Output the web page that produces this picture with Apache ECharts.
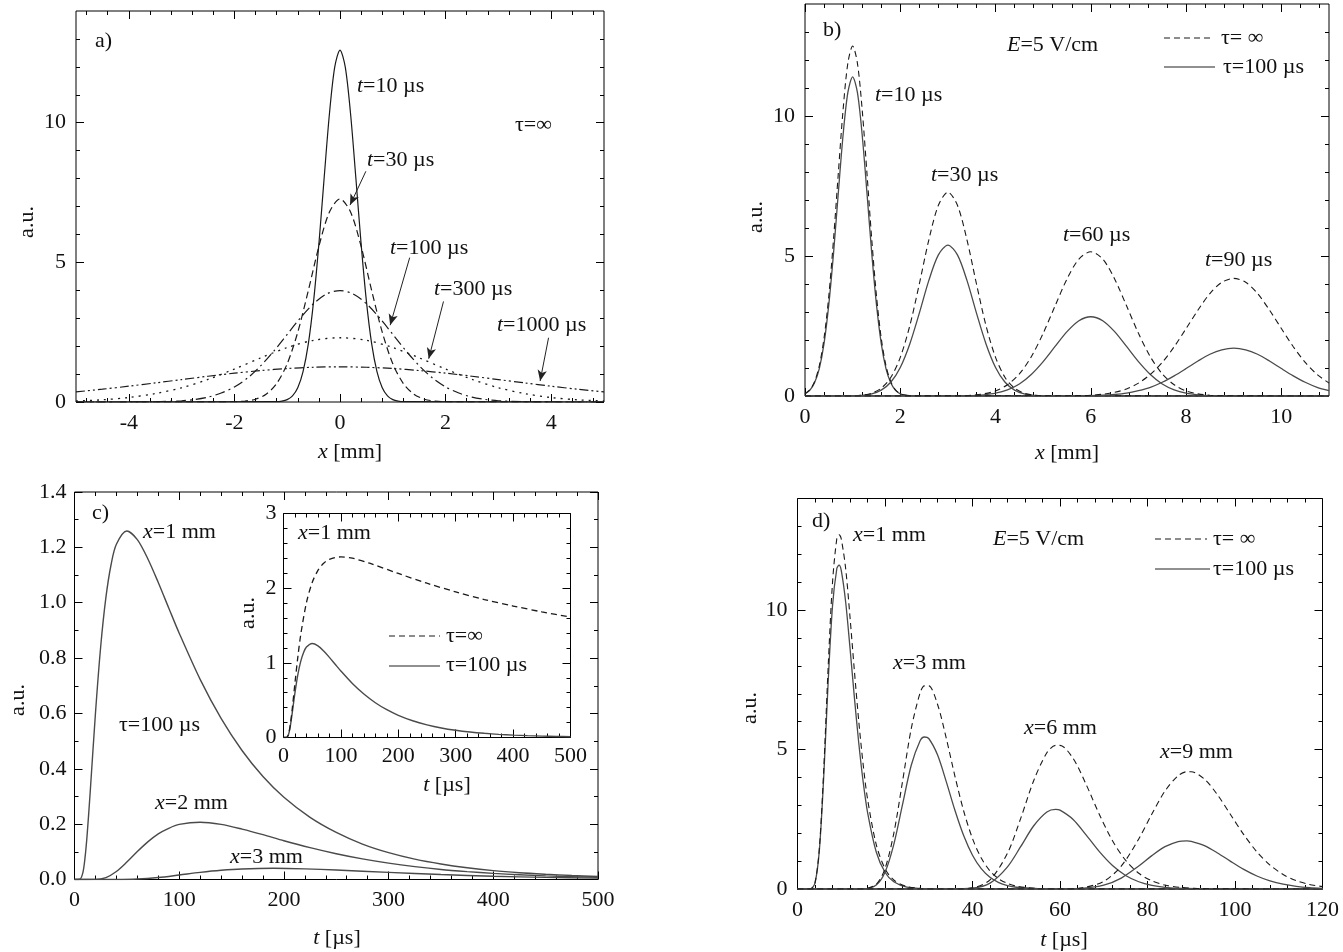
<!DOCTYPE html>
<html>
<head>
<meta charset="utf-8">
<script src="https://cdn.jsdelivr.net/npm/echarts@6/dist/echarts.min.js"></script>
<style>
html, body { margin: 0; padding: 0; background: #fff; }
#chart { width: 1343px; height: 952px; }
</style>
</head>
<body>
<div id="chart"></div>
<script>
// ---------- tick values ----------
const aXTicks = [-4, -2, 0, 2, 4];
const bXTicks = [0, 2, 4, 6, 8, 10];
const tauYTicks = [0, 5, 10];
const cXTicks = [0, 100, 200, 300, 400, 500];
const cYTicks = [0, 0.2, 0.4, 0.6, 0.8, 1.0, 1.2, 1.4];
const insetYTicks = [0, 1, 2, 3];
const dXTicks = [0, 20, 40, 60, 80, 100, 120];

// ---------- a) profiles n(x) at fixed t, tau = infinity ----------
const a_t10 = [[-5,0],[-1.2,0.01],[-1.1,0.03],[-1,0.085],[-0.9,0.22],[-0.8,0.51],[-0.7,1.09],[-0.6,2.08],[-0.5,3.61],[-0.4,5.66],[-0.3,8.03],[-0.2,10.32],[-0.1,11.99],[0,12.6],[0.1,11.99],[0.2,10.32],[0.3,8.03],[0.4,5.66],[0.5,3.61],[0.6,2.08],[0.7,1.09],[0.8,0.51],[0.9,0.22],[1,0.085],[1.1,0.03],[1.2,0.01],[5,0]];
const a_t30 = [[-5,0],[-2,0.009],[-1.8,0.033],[-1.6,0.10],[-1.4,0.28],[-1.2,0.66],[-1,1.37],[-0.8,2.50],[-0.6,3.99],[-0.4,5.57],[-0.2,6.80],[0,7.27],[0.2,6.80],[0.4,5.57],[0.6,3.99],[0.8,2.50],[1,1.37],[1.2,0.66],[1.4,0.28],[1.6,0.10],[1.8,0.033],[2,0.009],[5,0]];
const a_t100 = [[-5,0],[-4,0.001],[-3.5,0.009],[-3,0.044],[-2.75,0.091],[-2.5,0.175],[-2.25,0.32],[-2,0.54],[-1.75,0.86],[-1.5,1.30],[-1.25,1.83],[-1,2.42],[-0.75,3.01],[-0.5,3.52],[-0.25,3.87],[0,3.99],[0.25,3.87],[0.5,3.52],[0.75,3.01],[1,2.42],[1.25,1.83],[1.5,1.30],[1.75,0.86],[2,0.54],[2.25,0.32],[2.5,0.175],[2.75,0.091],[3,0.044],[3.5,0.009],[4,0.001],[5,0]];
const a_t300 = [[-5,0.036],[-4.5,0.079],[-4,0.16],[-3.5,0.30],[-3,0.51],[-2.5,0.81],[-2,1.18],[-1.5,1.58],[-1,1.95],[-0.5,2.21],[0,2.30],[0.5,2.21],[1,1.95],[1.5,1.58],[2,1.18],[2.5,0.81],[3,0.51],[3.5,0.30],[4,0.16],[4.5,0.079],[5,0.036]];
const a_t1000 = [[-5,0.361],[-4.5,0.458],[-4,0.566],[-3.5,0.683],[-3,0.803],[-2.5,0.922],[-2,1.032],[-1.5,1.126],[-1,1.199],[-0.5,1.244],[0,1.26],[0.5,1.244],[1,1.199],[1.5,1.126],[2,1.032],[2.5,0.922],[3,0.803],[3.5,0.683],[4,0.566],[4.5,0.458],[5,0.361]];

// ---------- b) profiles with drift, E = 5 V/cm ----------
const b_t10_inf = [[0,0.084],[0.1,0.22],[0.2,0.51],[0.3,1.08],[0.4,2.07],[0.5,3.58],[0.6,5.62],[0.7,7.97],[0.8,10.23],[0.9,11.89],[1,12.5],[1.1,11.89],[1.2,10.23],[1.3,7.97],[1.4,5.62],[1.5,3.58],[1.6,2.07],[1.7,1.08],[1.8,0.51],[1.9,0.22],[2,0.084],[2.1,0.03],[2.2,0.01],[11,0]];
const b_t10_100 = [[0,0.077],[0.1,0.20],[0.2,0.47],[0.3,0.98],[0.4,1.88],[0.5,3.27],[0.6,5.12],[0.7,7.27],[0.8,9.33],[0.9,10.84],[1,11.4],[1.1,10.84],[1.2,9.33],[1.3,7.27],[1.4,5.12],[1.5,3.27],[1.6,1.88],[1.7,0.98],[1.8,0.47],[1.9,0.20],[2,0.077],[2.1,0.027],[2.2,0.009],[11,0]];
const b_t30_inf = [[0,0],[1,0.009],[1.2,0.033],[1.4,0.10],[1.6,0.28],[1.8,0.66],[2,1.38],[2.2,2.51],[2.4,4.00],[2.6,5.58],[2.8,6.81],[3,7.28],[3.2,6.81],[3.4,5.58],[3.6,4.00],[3.8,2.51],[4,1.38],[4.2,0.66],[4.4,0.28],[4.6,0.10],[4.8,0.033],[5,0.009],[11,0]];
const b_t30_100 = [[0,0],[1,0.007],[1.2,0.024],[1.4,0.076],[1.6,0.21],[1.8,0.49],[2,1.02],[2.2,1.86],[2.4,2.96],[2.6,4.13],[2.8,5.04],[3,5.39],[3.2,5.04],[3.4,4.13],[3.6,2.96],[3.8,1.86],[4,1.02],[4.2,0.49],[4.4,0.21],[4.6,0.076],[4.8,0.024],[5,0.007],[11,0]];
const b_t60_inf = [[0,0],[3.25,0.009],[3.5,0.028],[3.75,0.076],[4,0.18],[4.25,0.40],[4.5,0.79],[4.75,1.40],[5,2.24],[5.25,3.22],[5.5,4.18],[5.75,4.89],[6,5.15],[6.25,4.89],[6.5,4.18],[6.75,3.22],[7,2.24],[7.25,1.40],[7.5,0.79],[7.75,0.40],[8,0.18],[8.25,0.076],[8.5,0.028],[8.75,0.009],[11,0]];
const b_t60_100 = [[0,0],[3.25,0.005],[3.5,0.015],[3.75,0.042],[4,0.10],[4.25,0.22],[4.5,0.43],[4.75,0.77],[5,1.23],[5.25,1.77],[5.5,2.30],[5.75,2.69],[6,2.83],[6.25,2.69],[6.5,2.30],[6.75,1.77],[7,1.23],[7.25,0.77],[7.5,0.43],[7.75,0.22],[8,0.10],[8.25,0.042],[8.5,0.015],[8.75,0.005],[11,0]];
const b_t90_inf = [[0,0],[5.75,0.012],[6,0.028],[6.25,0.063],[6.5,0.13],[6.75,0.25],[7,0.46],[7.25,0.77],[7.5,1.20],[7.75,1.76],[8,2.41],[8.25,3.07],[8.5,3.66],[8.75,4.06],[9,4.20],[9.25,4.06],[9.5,3.66],[9.75,3.07],[10,2.41],[10.25,1.76],[10.5,1.20],[10.75,0.77],[11,0.46]];
const b_t90_100 = [[0,0],[5.75,0.005],[6,0.012],[6.25,0.026],[6.5,0.053],[6.75,0.10],[7,0.19],[7.25,0.31],[7.5,0.49],[7.75,0.72],[8,0.98],[8.25,1.25],[8.5,1.49],[8.75,1.65],[9,1.71],[9.25,1.65],[9.5,1.49],[9.75,1.25],[10,0.98],[10.25,0.72],[10.5,0.49],[10.75,0.31],[11,0.19]];

// ---------- c) signal n(t) at fixed x, tau = 100 us ----------
const c_x1 = [[0,0],[5,0.0008],[8,0.025],[10,0.077],[12,0.158],[15,0.316],[20,0.600],[25,0.841],[30,1.019],[35,1.139],[40,1.211],[50,1.259],[60,1.228],[70,1.159],[80,1.073],[90,0.981],[100,0.890],[120,0.723],[140,0.582],[160,0.466],[180,0.372],[200,0.297],[225,0.2245],[250,0.170],[275,0.128],[300,0.097],[325,0.0736],[350,0.056],[375,0.0424],[400,0.032],[425,0.0245],[450,0.019],[475,0.0143],[500,0.011]];
const c_x2 = [[0,0],[20,0.0003],[30,0.007],[40,0.029],[50,0.063],[60,0.101],[70,0.136],[80,0.165],[90,0.185],[100,0.199],[120,0.207],[140,0.199],[160,0.182],[180,0.162],[200,0.140],[225,0.115],[250,0.093],[275,0.0743],[300,0.059],[325,0.0464],[350,0.036],[375,0.0284],[400,0.022],[425,0.0172],[450,0.013],[475,0.0104],[500,0.008]];
const c_x3 = [[0,0],[40,0.0001],[60,0.0016],[80,0.0072],[100,0.0163],[120,0.0258],[140,0.0334],[160,0.0382],[190,0.0405],[220,0.0385],[250,0.0342],[300,0.0256],[350,0.0178],[400,0.0119],[450,0.0077],[500,0.0049]];
// inset: x = 1 mm without recombination
const inset_inf = [[0,0],[5,0.0008],[8,0.027],[10,0.085],[12,0.179],[15,0.367],[20,0.732],[25,1.080],[30,1.376],[40,1.807],[50,2.076],[60,2.238],[70,2.334],[80,2.387],[100,2.419],[120,2.401],[150,2.334],[200,2.197],[250,2.066],[300,1.950],[350,1.848],[400,1.761],[450,1.683],[500,1.614]];

// ---------- d) signal n(t) at fixed x with drift ----------
const d_x1_inf = [[0,0],[2,0],[3,0.0067],[4,0.222],[5,1.465],[6,4.294],[7,7.929],[8,10.98],[9,12.58],[9.5,12.7],[10,12.55],[11,11.50],[12,9.749],[13,7.826],[14,6.021],[15,4.477],[16,3.239],[18,1.589],[20,0.732],[22,0.322],[25,0.089],[30,0.009],[35,0.0005],[120,0]];
const d_x1_100 = [[0,0],[2,0],[3,0.0064],[4,0.213],[5,1.393],[6,4.044],[7,7.393],[8,10.14],[9,11.50],[9.5,11.61],[10,11.42],[11,10.30],[12,8.646],[13,6.872],[14,5.234],[15,3.853],[16,2.760],[18,1.327],[20,0.600],[22,0.259],[25,0.069],[30,0.007],[35,0.0004],[120,0]];
const d_x3_inf = [[0,0],[12,0],[15,0.0057],[18,0.172],[20,0.732],[22,1.986],[24,3.847],[26,5.752],[28,7.020],[29,7.281],[30,7.284],[32,6.625],[34,5.407],[36,4.033],[38,2.788],[40,1.807],[42,1.109],[44,0.648],[46,0.364],[48,0.197],[50,0.103],[55,0.018],[60,0.003],[120,0]];
const d_x3_100 = [[0,0],[12,0],[15,0.0049],[18,0.144],[20,0.600],[22,1.594],[24,3.026],[26,4.435],[28,5.306],[29,5.449],[30,5.396],[32,4.810],[34,3.849],[36,2.814],[38,1.907],[40,1.211],[42,0.729],[44,0.418],[46,0.230],[48,0.122],[50,0.063],[55,0.011],[60,0.002],[120,0]];
const d_x6_inf = [[0,0],[35,0],[40,0.0425],[44,0.328],[48,1.285],[51,2.525],[54,3.890],[57,4.883],[59,5.150],[60,5.150],[63,4.680],[66,3.739],[69,2.670],[72,1.730],[75,1.028],[78,0.566],[81,0.291],[84,0.141],[88,0.049],[95,0.0065],[120,0]];
const d_x6_100 = [[0,0],[35,0],[40,0.0285],[44,0.211],[48,0.795],[51,1.516],[54,2.267],[57,2.761],[59,2.855],[60,2.826],[63,2.492],[66,1.933],[69,1.339],[72,0.842],[75,0.486],[78,0.260],[81,0.130],[84,0.061],[88,0.021],[95,0.0025],[120,0]];
const d_x9_inf = [[0,0],[60,0],[65,0.0404],[70,0.274],[74,0.822],[78,1.795],[81,2.689],[84,3.513],[87,4.062],[89,4.205],[90,4.205],[93,3.942],[96,3.376],[99,2.663],[102,1.950],[105,1.333],[108,0.857],[111,0.520],[114,0.299],[117,0.164],[120,0.086]];
const d_x9_100 = [[0,0],[60,0],[65,0.0211],[70,0.136],[74,0.392],[78,0.823],[81,1.196],[84,1.517],[87,1.702],[89,1.727],[90,1.710],[93,1.555],[96,1.293],[99,0.990],[102,0.703],[105,0.467],[108,0.291],[111,0.171],[114,0.096],[117,0.051],[120,0.026]];

// ---------- styling helpers ----------
const FONT = 'Liberation Serif';
const FS = 22;
const INK = '#111';

function minorTicks(from, to, step, majors) {
  const out = [];
  const n = Math.round((to - from) / step);
  for (let i = 0; i <= n; i++) {
    const v = +(from + i * step).toFixed(6);
    if (!majors.some(m => Math.abs(m - v) < 1e-9)) out.push(v);
  }
  return out;
}

// four axes per dimension: labelled main side, its minor ticks, and mirrored ticks on the opposite side
function makeAxes(dim, gridIndex, min, max, major, minor, fmt, margin) {
  const main = dim === 'x' ? 'bottom' : 'left';
  const opp = dim === 'x' ? 'top' : 'right';
  const base = { type: 'value', gridIndex, min, max, axisLine: { show: false, onZero: false }, splitLine: { show: false } };
  const tick = (vals, len) => ({ show: true, inside: true, length: len, customValues: vals, lineStyle: { color: '#000', width: 1 } });
  return [
    Object.assign({}, base, { position: main, axisTick: tick(major, 8),
      axisLabel: { show: true, customValues: major, formatter: fmt, fontFamily: FONT, fontSize: FS, color: INK, margin } }),
    Object.assign({}, base, { position: main, axisTick: tick(minor, 4), axisLabel: { show: false } }),
    Object.assign({}, base, { position: opp, axisTick: tick(major, 8), axisLabel: { show: false } }),
    Object.assign({}, base, { position: opp, axisTick: tick(minor, 4), axisLabel: { show: false } })
  ];
}

const intFmt = v => String(v);
const oneDec = v => v.toFixed(1);

const grids = [
  { left: 76,    top: 11,    width: 528,   height: 391 },   // a
  { left: 805,   top: 4,     width: 524,   height: 392 },   // b
  { left: 74.5,  top: 492,   width: 523.5, height: 387.5 }, // c
  { left: 797.5, top: 498.5, width: 525,   height: 390.5 }, // d
  { left: 283.5, top: 513.5, width: 287,   height: 224 }    // c inset
].map(g => Object.assign({ show: true, borderColor: '#000', borderWidth: 1, backgroundColor: 'transparent', containLabel: false }, g));

const tauYMinor = minorTicks(1, 13, 1, tauYTicks);
const xAxes = [].concat(
  makeAxes('x', 0, -5, 5, aXTicks, minorTicks(-4.8, 4.8, 0.4, aXTicks), intFmt, 10),
  makeAxes('x', 1, 0, 11, bXTicks, minorTicks(0.4, 10.8, 0.4, bXTicks), intFmt, 10),
  makeAxes('x', 2, 0, 500, cXTicks, minorTicks(20, 480, 20, cXTicks), intFmt, 10),
  makeAxes('x', 3, 0, 120, dXTicks, minorTicks(4, 116, 4, dXTicks), intFmt, 10),
  makeAxes('x', 4, 0, 500, cXTicks, minorTicks(20, 480, 20, cXTicks), intFmt, 8)
);
const yAxes = [].concat(
  makeAxes('y', 0, 0, 14, tauYTicks, tauYMinor, intFmt, 10),
  makeAxes('y', 1, 0, 14, tauYTicks, tauYMinor, intFmt, 10),
  makeAxes('y', 2, 0, 1.4, cYTicks, minorTicks(0.1, 1.3, 0.1, cYTicks), oneDec, 8),
  makeAxes('y', 3, 0, 14, tauYTicks, tauYMinor, intFmt, 10),
  makeAxes('y', 4, 0, 3, insetYTicks, minorTicks(0.2, 2.8, 0.2, insetYTicks), intFmt, 7)
);

const SOLID = '#4a4a4a';
const DARK = '#1a1a1a';
function curve(g, data, color, dash, width) {
  return {
    type: 'line', xAxisIndex: 4 * g, yAxisIndex: 4 * g, data,
    showSymbol: false, symbol: 'none', smooth: 0.3, silent: true, clip: true,
    lineStyle: { color, width: width || 1.3, type: dash || 'solid' }
  };
}
const DASH = [6, 4];

const series = [
  // a)
  Object.assign(curve(0, a_t10, DARK, 'solid', 1.2), {
    markLine: {
      silent: true, symbol: ['none', 'arrow'], symbolSize: [7, 11],
      label: { show: false }, lineStyle: { color: '#222', width: 1, type: 'solid' },
      data: [
        [{ coord: [0.49, 8.26] }, { coord: [0.19, 7.05] }],
        [{ coord: [1.32, 5.17] }, { coord: [0.95, 2.75] }],
        [{ coord: [1.96, 3.6] }, { coord: [1.68, 1.55] }],
        [{ coord: [3.95, 2.30] }, { coord: [3.79, 0.75] }]
      ]
    }
  }),
  curve(0, a_t30, DARK, [7, 4], 1.2),
  curve(0, a_t100, DARK, [10, 4, 2, 4], 1.2),
  curve(0, a_t300, DARK, [2, 5], 1.3),
  curve(0, a_t1000, DARK, [9, 3, 2, 3, 2, 3], 1.2),
  // b)
  curve(1, b_t10_100, SOLID), curve(1, b_t10_inf, DARK, DASH, 1.1),
  curve(1, b_t30_100, SOLID), curve(1, b_t30_inf, DARK, DASH, 1.1),
  curve(1, b_t60_100, SOLID), curve(1, b_t60_inf, DARK, DASH, 1.1),
  curve(1, b_t90_100, SOLID), curve(1, b_t90_inf, DARK, DASH, 1.1),
  // c)
  curve(2, c_x1, SOLID, 'solid', 1.4), curve(2, c_x2, SOLID, 'solid', 1.4), curve(2, c_x3, SOLID, 'solid', 1.4),
  // d)
  curve(3, d_x1_100, SOLID), curve(3, d_x1_inf, DARK, DASH, 1.1),
  curve(3, d_x3_100, SOLID), curve(3, d_x3_inf, DARK, DASH, 1.1),
  curve(3, d_x6_100, SOLID), curve(3, d_x6_inf, DARK, DASH, 1.1),
  curve(3, d_x9_100, SOLID), curve(3, d_x9_inf, DARK, DASH, 1.1),
  // inset of c)
  curve(4, c_x1, SOLID, 'solid', 1.4), curve(4, inset_inf, DARK, DASH, 1.3)
];

// ---------- text and legend graphics ----------
const rich = {
  i: { fontFamily: FONT, fontSize: FS, fontStyle: 'italic', fill: INK, color: INK }
};
function label(x, y, text, opts) {
  opts = opts || {};
  return {
    type: 'text', x, y, rotation: opts.rot || 0, silent: true, z: 20,
    style: { text, fontFamily: FONT, fontSize: opts.size || FS, fill: INK,
      align: opts.align || 'left', verticalAlign: 'middle', rich }
  };
}
function seg(x1, x2, y, dashed) {
  return {
    type: 'line', silent: true, z: 20,
    shape: { x1, y1: y, x2, y2: y },
    style: { stroke: dashed ? DARK : '#222', lineWidth: dashed ? 1.1 : 1.2, lineDash: dashed ? [6, 4] : null }
  };
}
const UP = Math.PI / 2;

const graphics = [
  // a)
  label(95, 41, 'a)'),
  label(357, 86, '{i|t}=10 µs'),
  label(367, 160, '{i|t}=30 µs'),
  label(390, 248, '{i|t}=100 µs'),
  label(434, 289, '{i|t}=300 µs'),
  label(497, 325, '{i|t}=1000 µs'),
  label(515, 125, 'τ=∞'),
  label(350, 452, '{i|x} [mm]', { align: 'center' }),
  label(27, 222, 'a.u.', { align: 'center', rot: UP }),
  // b)
  label(823, 30, 'b)'),
  label(1007, 45, '{i|E}=5 V/cm'),
  seg(1164, 1211, 38, true), label(1221, 38, 'τ= ∞'),
  seg(1164, 1215, 67, false), label(1223, 67, 'τ=100 µs'),
  label(875, 95, '{i|t}=10 µs'),
  label(931, 175, '{i|t}=30 µs'),
  label(1063, 235, '{i|t}=60 µs'),
  label(1205, 260, '{i|t}=90 µs'),
  label(1067, 453, '{i|x} [mm]', { align: 'center' }),
  label(756, 217, 'a.u.', { align: 'center', rot: UP }),
  // c)
  label(92, 513, 'c)'),
  label(143, 532, '{i|x}=1 mm'),
  label(119, 725, 'τ=100 µs'),
  label(155, 803, '{i|x}=2 mm'),
  label(230, 857, '{i|x}=3 mm'),
  label(337, 938, '{i|t} [µs]', { align: 'center' }),
  label(18, 700, 'a.u.', { align: 'center', rot: UP }),
  // inset
  label(298, 533, '{i|x}=1 mm'),
  seg(389, 440, 636, true), label(446, 636, 'τ=∞'),
  seg(389, 440, 666, false), label(446, 665, 'τ=100 µs'),
  label(248, 613, 'a.u.', { align: 'center', rot: UP }),
  label(447, 785, '{i|t} [µs]', { align: 'center' }),
  // d)
  label(812, 521, 'd)'),
  label(853, 535, '{i|x}=1 mm'),
  label(993, 539, '{i|E}=5 V/cm'),
  seg(1155, 1207, 539, true), label(1213, 539, 'τ= ∞'),
  seg(1155, 1210, 569, false), label(1213, 569, 'τ=100 µs'),
  label(893, 663, '{i|x}=3 mm'),
  label(1024, 728, '{i|x}=6 mm'),
  label(1160, 752, '{i|x}=9 mm'),
  label(1064, 940, '{i|t} [µs]', { align: 'center' }),
  label(750, 708, 'a.u.', { align: 'center', rot: UP })
];

const chart = echarts.init(document.getElementById('chart'), null, { renderer: 'canvas' });
chart.setOption({
  backgroundColor: '#fff',
  animation: false,
  grid: grids,
  xAxis: xAxes,
  yAxis: yAxes,
  series,
  graphic: graphics
});
</script>
</body>
</html>
